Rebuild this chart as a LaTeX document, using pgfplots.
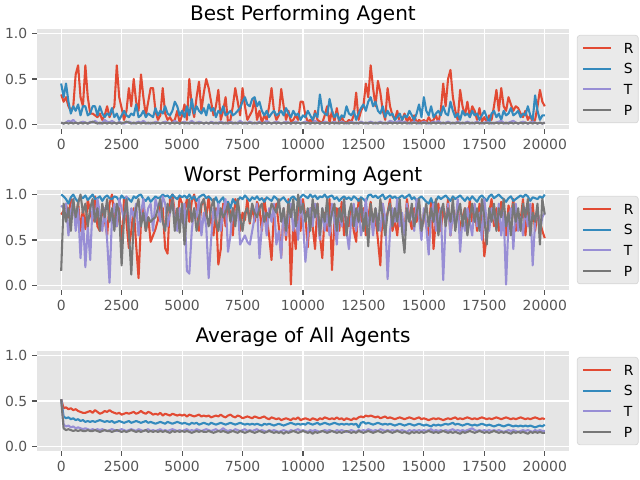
\documentclass[border=0pt]{standalone}
\usepackage{fontspec}
\setmainfont{DejaVu Sans}
\usepackage{pgfplots}
\usepackage{pgfplotstable}
\pgfplotsset{compat=1.18}
\definecolor{ggred}{HTML}{E24A33}
\definecolor{ggblue}{HTML}{348ABD}
\definecolor{ggpurple}{HTML}{988ED5}
\definecolor{gggray}{HTML}{777777}
\definecolor{ggbg}{HTML}{E5E5E5}
\definecolor{ticklab}{HTML}{555555}
\definecolor{legfill}{HTML}{EAEAEA}
\definecolor{legdraw}{HTML}{D6D6D6}

\pgfplotstableread{
x R S T P
0 0.33 0.45 0.02 0.02
100 0.25 0.30 0.01 0.01
200 0.30 0.45 0.02 0.02
300 0.20 0.25 0.04 0.01
400 0.15 0.12 0.03 0.02
500 0.20 0.20 0.05 0.01
600 0.55 0.15 0.02 0.02
700 0.65 0.22 0.01 0.01
800 0.30 0.10 0.02 0.02
900 0.20 0.20 0.03 0.01
1000 0.65 0.20 0.02 0.02
1100 0.30 0.10 0.01 0.01
1200 0.12 0.12 0.03 0.02
1300 0.12 0.20 0.02 0.03
1400 0.10 0.20 0.04 0.02
1500 0.08 0.10 0.02 0.01
1600 0.12 0.20 0.01 0.02
1700 0.05 0.12 0.02 0.01
1800 0.10 0.08 0.05 0.02
1900 0.20 0.12 0.03 0.01
2000 0.08 0.10 0.02 0.02
2100 0.15 0.18 0.04 0.01
2200 0.20 0.08 0.02 0.02
2300 0.65 0.12 0.01 0.01
2400 0.30 0.05 0.03 0.02
2500 0.18 0.10 0.02 0.01
2600 0.05 0.15 0.01 0.02
2700 0.15 0.10 0.02 0.03
2800 0.40 0.08 0.03 0.02
2900 0.20 0.12 0.02 0.01
3000 0.50 0.10 0.01 0.02
3100 0.25 0.22 0.02 0.01
3200 0.15 0.08 0.03 0.02
3300 0.55 0.10 0.02 0.01
3400 0.30 0.15 0.04 0.02
3500 0.10 0.08 0.02 0.01
3600 0.25 0.12 0.01 0.02
3700 0.40 0.10 0.02 0.01
3800 0.40 0.08 0.01 0.02
3900 0.15 0.18 0.03 0.01
4000 0.05 0.10 0.02 0.02
4100 0.10 0.15 0.01 0.01
4200 0.40 0.12 0.02 0.02
4300 0.12 0.20 0.03 0.01
4400 0.05 0.12 0.02 0.02
4500 0.08 0.10 0.01 0.01
4600 0.03 0.15 0.02 0.02
4700 0.05 0.25 0.04 0.01
4800 0.15 0.20 0.02 0.02
4900 0.02 0.10 0.01 0.01
5000 0.10 0.15 0.02 0.02
5100 0.22 0.08 0.03 0.01
5200 0.05 0.20 0.01 0.02
5300 0.50 0.10 0.02 0.01
5400 0.20 0.28 0.04 0.02
5500 0.08 0.12 0.02 0.01
5600 0.30 0.20 0.01 0.02
5700 0.47 0.15 0.03 0.01
5800 0.15 0.12 0.02 0.02
5900 0.35 0.18 0.01 0.01
6000 0.50 0.10 0.02 0.02
6100 0.40 0.22 0.01 0.01
6200 0.25 0.15 0.03 0.02
6300 0.10 0.18 0.02 0.01
6400 0.20 0.08 0.01 0.02
6500 0.38 0.15 0.02 0.01
6600 0.05 0.12 0.03 0.02
6700 0.15 0.20 0.02 0.01
6800 0.30 0.10 0.01 0.02
6900 0.02 0.12 0.02 0.01
7000 0.05 0.15 0.03 0.02
7100 0.20 0.10 0.02 0.01
7200 0.40 0.12 0.01 0.02
7300 0.25 0.15 0.02 0.01
7400 0.10 0.18 0.04 0.02
7500 0.40 0.25 0.02 0.01
7600 0.20 0.30 0.01 0.02
7700 0.05 0.22 0.02 0.01
7800 0.10 0.20 0.03 0.02
7900 0.15 0.28 0.02 0.01
8000 0.28 0.30 0.01 0.02
8100 0.05 0.20 0.02 0.01
8200 0.15 0.25 0.03 0.02
8300 0.02 0.15 0.01 0.01
8400 0.10 0.10 0.02 0.02
8500 0.05 0.15 0.04 0.01
8600 0.20 0.08 0.02 0.02
8700 0.40 0.12 0.01 0.01
8800 0.15 0.15 0.02 0.02
8900 0.05 0.10 0.03 0.01
9000 0.10 0.12 0.02 0.02
9100 0.39 0.15 0.01 0.01
9200 0.20 0.10 0.02 0.02
9300 0.05 0.18 0.03 0.01
9400 0.15 0.12 0.02 0.02
9500 0.03 0.08 0.01 0.01
9600 0.05 0.15 0.02 0.02
9700 0.10 0.10 0.03 0.01
9800 0.05 0.12 0.02 0.02
9900 0.25 0.05 0.01 0.01
10000 0.25 0.10 0.02 0.02
10100 0.10 0.08 0.03 0.01
10200 0.03 0.15 0.02 0.02
10300 0.05 0.10 0.01 0.01
10400 0.02 0.05 0.02 0.02
10500 0.15 0.12 0.04 0.01
10600 0.05 0.08 0.02 0.02
10700 0.03 0.33 0.01 0.01
10800 0.02 0.15 0.02 0.02
10900 0.10 0.12 0.03 0.01
11000 0.20 0.10 0.02 0.02
11100 0.02 0.28 0.01 0.01
11200 0.15 0.15 0.02 0.02
11300 0.03 0.08 0.03 0.01
11400 0.18 0.12 0.01 0.02
11500 0.02 0.05 0.02 0.01
11600 0.08 0.10 0.03 0.02
11700 0.03 0.08 0.02 0.01
11800 0.02 0.20 0.01 0.02
11900 0.05 0.12 0.02 0.01
12000 0.03 0.10 0.03 0.02
12100 0.10 0.15 0.02 0.01
12200 0.35 0.05 0.01 0.02
12300 0.05 0.12 0.02 0.01
12400 0.15 0.18 0.03 0.02
12500 0.20 0.22 0.02 0.01
12600 0.45 0.15 0.01 0.02
12700 0.30 0.25 0.02 0.01
12800 0.65 0.30 0.03 0.02
12900 0.40 0.20 0.02 0.01
13000 0.20 0.25 0.01 0.02
13100 0.48 0.15 0.02 0.01
13200 0.35 0.12 0.03 0.02
13300 0.15 0.20 0.02 0.01
13400 0.05 0.08 0.01 0.02
13500 0.40 0.15 0.02 0.01
13600 0.20 0.10 0.04 0.02
13700 0.10 0.12 0.03 0.01
13800 0.05 0.05 0.02 0.02
13900 0.15 0.08 0.03 0.01
14000 0.02 0.12 0.04 0.02
14100 0.05 0.05 0.02 0.01
14200 0.12 0.10 0.03 0.02
14300 0.03 0.08 0.02 0.01
14400 0.08 0.15 0.01 0.02
14500 0.02 0.10 0.02 0.01
14600 0.10 0.05 0.03 0.02
14700 0.02 0.12 0.02 0.01
14800 0.05 0.22 0.01 0.02
14900 0.03 0.08 0.02 0.01
15000 0.05 0.30 0.03 0.02
15100 0.02 0.15 0.02 0.01
15200 0.08 0.10 0.01 0.02
15300 0.03 0.20 0.02 0.01
15400 0.05 0.08 0.03 0.02
15500 0.10 0.12 0.02 0.01
15600 0.02 0.15 0.04 0.02
15700 0.15 0.10 0.02 0.01
15800 0.45 0.20 0.01 0.02
15900 0.20 0.12 0.02 0.01
16000 0.50 0.10 0.03 0.02
16100 0.60 0.25 0.02 0.01
16200 0.30 0.15 0.01 0.02
16300 0.15 0.08 0.02 0.01
16400 0.05 0.12 0.03 0.02
16500 0.38 0.05 0.02 0.01
16600 0.20 0.15 0.01 0.02
16700 0.10 0.10 0.02 0.01
16800 0.25 0.12 0.03 0.02
16900 0.08 0.08 0.02 0.01
17000 0.20 0.15 0.01 0.02
17100 0.15 0.10 0.02 0.01
17200 0.05 0.12 0.03 0.02
17300 0.18 0.05 0.02 0.01
17400 0.03 0.10 0.01 0.02
17500 0.08 0.15 0.02 0.01
17600 0.02 0.08 0.03 0.02
17700 0.10 0.02 0.02 0.01
17800 0.05 0.12 0.01 0.02
17900 0.20 0.15 0.02 0.01
18000 0.38 0.08 0.02 0.02
18100 0.15 0.12 0.03 0.01
18200 0.40 0.05 0.04 0.02
18300 0.20 0.15 0.02 0.01
18400 0.15 0.10 0.01 0.02
18500 0.30 0.12 0.02 0.01
18600 0.22 0.18 0.03 0.02
18700 0.15 0.10 0.04 0.01
18800 0.20 0.12 0.02 0.02
18900 0.18 0.15 0.01 0.01
19000 0.12 0.08 0.02 0.02
19100 0.08 0.12 0.03 0.01
19200 0.15 0.10 0.02 0.02
19300 0.05 0.20 0.01 0.01
19400 0.10 0.10 0.02 0.02
19500 0.02 0.05 0.03 0.01
19600 0.05 0.32 0.02 0.02
19700 0.20 0.15 0.01 0.01
19800 0.38 0.05 0.02 0.02
19900 0.25 0.10 0.01 0.01
20000 0.20 0.10 0.02 0.02
}\best

\pgfplotstableread{
x R S T P
0 0.78 1.00 0.88 0.16
100 0.82 0.98 0.85 0.90
200 0.90 0.95 0.90 0.70
300 0.75 0.90 0.55 0.85
400 0.95 0.97 0.80 0.60
500 0.88 1.00 0.95 0.95
600 0.70 0.95 0.60 0.75
700 0.92 0.92 0.85 0.90
800 0.60 0.98 0.30 1.00
900 0.85 0.96 0.75 0.80
1000 0.62 0.99 0.20 0.90
1100 0.95 0.94 0.65 0.65
1200 0.80 0.97 0.28 0.85
1300 0.70 1.00 0.90 0.95
1400 0.98 0.95 0.70 0.70
1500 0.65 0.96 0.95 0.85
1600 0.60 0.98 0.80 0.60
1700 0.85 0.93 0.60 0.90
1800 0.72 0.97 0.85 0.75
1900 0.55 0.99 0.50 0.95
2000 0.90 0.96 0.03 0.70
2100 1.00 0.95 0.75 0.85
2200 0.75 0.98 0.90 0.60
2300 0.65 0.97 0.65 0.90
2400 0.85 0.93 0.95 0.80
2500 0.40 0.99 0.85 0.22
2600 0.95 0.96 0.70 0.75
2700 0.70 0.97 0.98 0.95
2800 0.41 0.95 0.60 0.60
2900 0.60 0.92 0.85 0.12
3000 0.85 0.98 0.75 0.70
3100 0.45 0.96 0.90 0.85
3200 0.08 0.99 0.55 0.95
3300 0.70 1.00 0.80 0.65
3400 0.90 0.95 0.95 0.80
3500 0.60 0.93 0.70 0.60
3600 0.75 0.97 0.85 0.75
3700 0.48 0.92 0.90 0.70
3800 0.55 0.95 0.60 0.73
3900 0.62 0.98 0.95 0.75
4000 0.72 0.96 0.85 0.85
4100 0.90 0.97 0.70 0.95
4200 0.85 1.00 0.98 0.70
4300 0.41 0.98 0.90 0.60
4400 0.35 0.99 0.65 0.90
4500 0.95 0.96 0.80 0.80
4600 1.00 1.00 0.95 0.95
4700 0.80 0.97 0.75 0.60
4800 0.65 0.95 0.60 0.85
4900 0.98 0.99 0.85 0.58
5000 0.90 0.97 0.70 0.90
5100 0.82 0.99 0.90 0.45
5200 0.95 0.96 0.16 0.80
5300 0.70 1.00 0.13 0.95
5400 0.92 0.95 0.60 0.70
5500 1.00 0.98 0.85 0.85
5600 0.85 0.93 0.75 0.60
5700 0.60 0.97 0.95 0.75
5800 0.88 0.99 0.55 0.90
5900 0.95 1.00 0.80 0.95
6000 0.75 0.96 0.65 0.80
6100 0.98 0.98 0.08 0.65
6200 0.70 0.95 0.50 0.85
6300 0.55 0.92 0.85 0.95
6400 0.85 0.97 0.70 0.70
6500 0.23 0.90 0.90 0.60
6600 0.40 0.94 0.60 0.85
6700 0.90 0.97 0.80 0.75
6800 0.65 0.88 0.95 0.80
6900 0.92 0.92 0.37 0.90
7000 0.78 0.85 0.55 0.70
7100 0.55 0.95 0.85 0.85
7200 0.95 0.90 0.70 0.65
7300 0.85 0.93 0.90 0.95
7400 0.60 0.97 0.45 0.75
7500 0.80 0.95 0.50 0.60
7600 0.72 0.99 0.55 0.80
7700 0.95 0.96 0.48 0.85
7800 0.68 0.93 0.45 0.70
7900 0.88 0.97 0.60 0.90
8000 0.70 0.95 0.75 0.80
8100 0.92 0.98 0.90 0.75
8200 0.85 0.94 0.30 0.85
8300 0.60 0.96 0.65 0.90
8400 0.95 0.92 0.80 0.70
8500 0.75 0.97 0.55 0.80
8600 0.55 0.95 0.85 0.75
8700 0.28 0.93 0.70 0.90
8800 0.80 0.98 0.90 0.85
8900 0.90 0.96 0.45 0.80
9000 0.65 0.92 0.60 0.95
9100 0.33 0.95 0.30 0.70
9200 0.85 0.97 0.85 0.85
9300 0.50 0.93 0.55 0.60
9400 0.95 0.90 0.75 0.90
9500 0.01 0.96 0.90 0.75
9600 0.70 0.98 0.60 0.95
9700 0.40 0.95 0.80 0.65
9800 0.88 0.93 0.50 1.00
9900 0.60 0.97 0.95 0.80
10000 0.95 1.00 0.70 0.90
10100 0.75 0.98 0.26 0.70
10200 0.42 0.96 0.55 0.85
10300 0.85 1.00 0.85 0.60
10400 0.65 0.97 0.65 0.95
10500 0.40 0.99 0.90 0.75
10600 0.90 0.95 0.75 0.90
10700 0.55 0.98 0.50 0.55
10800 0.30 0.97 0.85 0.85
10900 0.80 1.00 0.60 0.70
11000 0.60 0.96 0.80 0.95
11100 0.95 0.98 0.55 0.65
11200 0.17 0.99 0.90 0.80
11300 0.70 0.95 0.70 0.90
11400 0.85 0.97 0.45 0.60
11500 0.60 0.93 0.85 0.85
11600 0.92 0.96 0.65 0.70
11700 0.55 0.98 0.95 0.95
11800 0.75 0.95 0.60 0.55
11900 0.65 0.97 0.40 0.80
12000 0.85 0.94 0.75 0.90
12100 0.60 0.98 0.90 0.65
12200 0.48 0.96 0.60 0.85
12300 0.95 0.93 0.85 0.70
12400 0.70 0.97 0.55 0.95
12500 0.85 0.95 0.70 0.60
12600 0.55 0.92 0.95 0.80
12700 0.75 0.99 0.65 0.43
12800 0.92 1.00 0.80 0.90
12900 0.60 0.97 0.55 0.70
13000 0.75 0.99 0.85 0.85
13100 0.50 0.96 0.70 0.60
13200 0.22 0.98 0.60 0.95
13300 0.90 1.00 0.90 0.75
13400 0.65 0.95 0.75 0.55
13500 0.80 0.97 0.07 0.80
13600 0.95 0.99 0.60 0.90
13700 0.60 0.96 0.85 0.65
13800 0.72 0.98 0.70 0.85
13900 0.55 0.95 0.95 0.70
14000 0.88 0.97 0.65 0.95
14100 0.70 0.99 0.80 0.60
14200 0.60 0.96 0.55 0.36
14300 0.95 0.98 0.90 0.85
14400 0.75 1.00 0.70 0.70
14500 0.62 0.95 0.85 0.90
14600 0.85 0.97 0.60 0.65
14700 0.70 0.93 0.95 0.80
14800 0.90 0.96 0.75 0.95
14900 0.60 0.98 0.50 0.60
15000 0.80 0.95 0.85 0.75
15100 0.65 0.92 0.65 0.90
15200 0.55 0.90 0.34 0.65
15300 0.95 0.96 0.80 0.85
15400 0.40 0.88 0.90 0.70
15500 0.75 0.93 0.60 0.95
15600 0.90 0.98 0.75 0.55
15700 0.60 0.95 0.85 0.80
15800 0.85 0.97 0.06 0.90
15900 0.70 0.99 0.70 0.65
16000 0.95 0.96 0.90 0.85
16100 0.55 0.93 0.55 0.70
16200 0.80 0.98 0.80 0.95
16300 0.68 0.95 0.65 0.60
16400 0.90 0.97 0.95 0.80
16500 0.60 0.99 0.37 0.90
16600 0.75 0.96 0.75 0.65
16700 0.85 0.93 0.60 0.85
16800 0.62 0.97 0.85 0.55
16900 0.95 0.94 0.70 0.75
17000 0.70 0.98 0.55 0.90
17100 0.85 0.95 0.90 0.70
17200 0.60 0.92 0.65 0.85
17300 0.90 0.97 0.80 0.60
17400 0.75 0.99 0.50 0.95
17500 0.32 0.96 0.95 0.75
17600 0.55 0.93 0.70 0.45
17700 0.80 0.98 0.60 0.85
17800 0.95 1.00 0.85 0.70
17900 0.65 0.96 0.75 0.90
18000 0.85 0.98 0.65 0.60
18100 0.60 1.00 0.90 0.85
18200 0.92 0.97 0.55 0.75
18300 0.70 0.95 0.80 0.95
18400 0.55 0.92 0.01 0.65
18500 0.88 0.96 0.70 0.80
18600 0.75 0.98 0.85 0.55
18700 0.95 0.93 0.40 0.90
18800 0.60 0.95 0.90 0.70
18900 0.80 0.97 0.60 0.85
19000 0.72 0.99 0.75 0.60
19100 0.95 0.97 0.55 0.90
19200 0.55 1.00 0.85 0.75
19300 0.85 0.98 0.65 0.95
19400 0.65 0.93 0.90 0.55
19500 0.90 0.97 0.22 0.80
19600 0.60 0.96 0.70 0.70
19700 0.80 0.95 0.85 0.90
19800 0.70 0.98 0.60 0.45
19900 0.60 0.96 0.75 0.95
20000 0.52 1.00 0.80 0.78
}\worst

\pgfplotstableread{
x R S T P
0 0.52 0.52 0.52 0.52
100 0.42 0.33 0.24 0.20
200 0.43 0.31 0.22 0.18
300 0.41 0.32 0.23 0.19
400 0.42 0.30 0.21 0.18
500 0.40 0.31 0.22 0.17
600 0.41 0.29 0.20 0.18
700 0.39 0.30 0.21 0.17
800 0.38 0.28 0.20 0.18
900 0.37 0.29 0.19 0.17
1000 0.37 0.27 0.20 0.17
1100 0.38 0.28 0.19 0.18
1200 0.39 0.27 0.18 0.17
1300 0.37 0.28 0.19 0.17
1400 0.40 0.27 0.18 0.18
1500 0.38 0.28 0.19 0.17
1600 0.36 0.29 0.18 0.16
1700 0.37 0.28 0.19 0.17
1800 0.39 0.27 0.18 0.18
1900 0.38 0.28 0.17 0.17
2000 0.40 0.27 0.18 0.17
2100 0.38 0.28 0.19 0.16
2200 0.37 0.26 0.18 0.17
2300 0.36 0.27 0.17 0.18
2400 0.37 0.28 0.18 0.17
2500 0.35 0.27 0.19 0.16
2600 0.36 0.26 0.18 0.17
2700 0.37 0.27 0.17 0.16
2800 0.36 0.28 0.18 0.17
2900 0.37 0.26 0.19 0.18
3000 0.38 0.27 0.18 0.17
3100 0.36 0.28 0.17 0.16
3200 0.37 0.27 0.19 0.17
3300 0.39 0.26 0.18 0.16
3400 0.37 0.27 0.17 0.17
3500 0.36 0.28 0.18 0.18
3600 0.38 0.26 0.19 0.16
3700 0.37 0.27 0.17 0.17
3800 0.35 0.26 0.18 0.16
3900 0.36 0.25 0.17 0.17
4000 0.35 0.26 0.18 0.16
4100 0.37 0.27 0.19 0.17
4200 0.34 0.26 0.17 0.16
4300 0.36 0.25 0.18 0.17
4400 0.35 0.27 0.17 0.16
4500 0.34 0.26 0.18 0.15
4600 0.36 0.25 0.19 0.17
4700 0.35 0.26 0.18 0.16
4800 0.34 0.27 0.17 0.17
4900 0.35 0.26 0.18 0.16
5000 0.34 0.25 0.17 0.17
5100 0.35 0.26 0.18 0.16
5200 0.33 0.25 0.19 0.17
5300 0.35 0.24 0.17 0.16
5400 0.34 0.26 0.18 0.15
5500 0.33 0.25 0.17 0.16
5600 0.34 0.26 0.19 0.17
5700 0.35 0.24 0.18 0.16
5800 0.33 0.25 0.17 0.17
5900 0.34 0.26 0.18 0.16
6000 0.33 0.25 0.19 0.16
6100 0.34 0.24 0.18 0.17
6200 0.32 0.26 0.17 0.16
6300 0.33 0.25 0.18 0.15
6400 0.34 0.24 0.19 0.16
6500 0.33 0.25 0.17 0.17
6600 0.35 0.26 0.18 0.16
6700 0.33 0.25 0.20 0.17
6800 0.32 0.24 0.18 0.16
6900 0.34 0.25 0.17 0.15
7000 0.35 0.26 0.18 0.16
7100 0.33 0.25 0.17 0.17
7200 0.32 0.24 0.19 0.16
7300 0.34 0.25 0.18 0.15
7400 0.33 0.26 0.17 0.17
7500 0.31 0.25 0.18 0.16
7600 0.32 0.24 0.19 0.15
7700 0.33 0.25 0.17 0.16
7800 0.32 0.24 0.18 0.17
7900 0.31 0.25 0.17 0.16
8000 0.33 0.24 0.18 0.15
8100 0.32 0.25 0.19 0.16
8200 0.31 0.24 0.17 0.17
8300 0.32 0.23 0.18 0.16
8400 0.33 0.25 0.17 0.15
8500 0.31 0.24 0.16 0.16
8600 0.30 0.25 0.18 0.17
8700 0.32 0.24 0.17 0.16
8800 0.31 0.23 0.18 0.15
8900 0.30 0.24 0.17 0.16
9000 0.31 0.25 0.16 0.15
9100 0.29 0.24 0.17 0.16
9200 0.30 0.23 0.18 0.14
9300 0.31 0.24 0.17 0.16
9400 0.30 0.25 0.16 0.15
9500 0.29 0.26 0.18 0.16
9600 0.31 0.25 0.17 0.17
9700 0.30 0.24 0.18 0.16
9800 0.32 0.25 0.19 0.15
9900 0.29 0.24 0.17 0.16
10000 0.30 0.25 0.18 0.17
10100 0.31 0.24 0.17 0.16
10200 0.30 0.26 0.16 0.15
10300 0.29 0.25 0.18 0.16
10400 0.31 0.24 0.17 0.14
10500 0.30 0.25 0.18 0.16
10600 0.29 0.26 0.17 0.15
10700 0.31 0.24 0.16 0.16
10800 0.30 0.25 0.17 0.17
10900 0.32 0.26 0.18 0.16
11000 0.31 0.25 0.17 0.15
11100 0.30 0.24 0.18 0.16
11200 0.31 0.25 0.17 0.17
11300 0.30 0.26 0.16 0.16
11400 0.32 0.25 0.18 0.15
11500 0.30 0.24 0.17 0.16
11600 0.31 0.25 0.18 0.15
11700 0.29 0.24 0.17 0.16
11800 0.31 0.25 0.16 0.17
11900 0.30 0.24 0.17 0.16
12000 0.29 0.25 0.18 0.15
12100 0.31 0.24 0.17 0.16
12200 0.30 0.25 0.16 0.15
12300 0.32 0.21 0.18 0.17
12400 0.33 0.26 0.17 0.16
12500 0.32 0.27 0.18 0.15
12600 0.34 0.25 0.17 0.16
12700 0.33 0.26 0.19 0.17
12800 0.34 0.25 0.18 0.16
12900 0.33 0.24 0.17 0.15
13000 0.32 0.25 0.18 0.16
13100 0.33 0.26 0.17 0.17
13200 0.31 0.25 0.19 0.16
13300 0.32 0.24 0.18 0.15
13400 0.33 0.25 0.17 0.16
13500 0.31 0.24 0.18 0.17
13600 0.32 0.25 0.17 0.16
13700 0.31 0.24 0.18 0.15
13800 0.30 0.23 0.17 0.16
13900 0.31 0.24 0.18 0.17
14000 0.32 0.25 0.17 0.16
14100 0.31 0.24 0.18 0.15
14200 0.30 0.23 0.17 0.16
14300 0.31 0.24 0.16 0.15
14400 0.32 0.25 0.18 0.14
14500 0.31 0.24 0.17 0.16
14600 0.30 0.23 0.18 0.15
14700 0.31 0.24 0.17 0.16
14800 0.32 0.25 0.18 0.15
14900 0.30 0.24 0.17 0.16
15000 0.31 0.23 0.18 0.15
15100 0.30 0.24 0.17 0.16
15200 0.29 0.23 0.18 0.17
15300 0.30 0.22 0.19 0.16
15400 0.31 0.24 0.17 0.15
15500 0.30 0.23 0.18 0.16
15600 0.31 0.24 0.17 0.15
15700 0.30 0.23 0.18 0.16
15800 0.29 0.24 0.17 0.17
15900 0.30 0.25 0.18 0.16
16000 0.31 0.24 0.17 0.15
16100 0.30 0.25 0.18 0.16
16200 0.31 0.26 0.19 0.15
16300 0.32 0.24 0.17 0.16
16400 0.30 0.25 0.18 0.15
16500 0.31 0.24 0.17 0.14
16600 0.30 0.23 0.18 0.16
16700 0.31 0.24 0.17 0.15
16800 0.32 0.25 0.18 0.16
16900 0.31 0.24 0.19 0.17
17000 0.30 0.23 0.20 0.16
17100 0.31 0.24 0.18 0.15
17200 0.30 0.23 0.17 0.16
17300 0.31 0.24 0.18 0.17
17400 0.32 0.25 0.17 0.16
17500 0.31 0.24 0.18 0.15
17600 0.30 0.23 0.17 0.16
17700 0.31 0.24 0.18 0.15
17800 0.30 0.23 0.17 0.16
17900 0.31 0.22 0.18 0.17
18000 0.32 0.23 0.17 0.16
18100 0.31 0.24 0.18 0.15
18200 0.30 0.23 0.17 0.16
18300 0.31 0.22 0.16 0.15
18400 0.32 0.23 0.17 0.16
18500 0.31 0.24 0.18 0.15
18600 0.30 0.23 0.17 0.14
18700 0.31 0.22 0.18 0.16
18800 0.30 0.23 0.17 0.15
18900 0.31 0.22 0.16 0.16
19000 0.32 0.23 0.17 0.15
19100 0.31 0.22 0.18 0.16
19200 0.30 0.23 0.17 0.15
19300 0.31 0.22 0.18 0.14
19400 0.30 0.23 0.17 0.16
19500 0.31 0.22 0.16 0.15
19600 0.32 0.21 0.18 0.16
19700 0.31 0.22 0.17 0.15
19800 0.30 0.23 0.18 0.16
19900 0.31 0.22 0.17 0.15
20000 0.30 0.24 0.17 0.15
}\avg

\pgfplotsset{
  ggstyle/.style={
    scale only axis, width=383pt, height=72pt,
    anchor=south west,
    xmin=-1000, xmax=21000, ymin=-0.05, ymax=1.05,
    axis background/.style={fill=ggbg},
    axis line style={draw=none},
    grid=major, major grid style={white, line width=0.8pt},
    xtick={0,2500,5000,7500,10000,12500,15000,17500,20000},
    ytick={0,0.5,1},
    scaled x ticks=false,
    tick align=outside, xtick pos=bottom, ytick pos=left,
    major tick length=3.5pt,
    tick style={ticklab, line width=0.8pt},
    ticklabel style={font=\fontsize{10}{12}\selectfont, text=ticklab},
    /pgf/number format/assume math mode=true,
    xticklabel={\pgfmathprintnumber[fixed,precision=0,1000 sep={}]{\tick}},
    yticklabel={\pgfmathprintnumber[fixed,fixed zerofill,precision=1]{\tick}},
    title style={font=\fontsize{14.4}{17}\selectfont, anchor=base, inner sep=0pt},
    legend style={at={(1.015,0.94)}, anchor=north west, fill=legfill, draw=legdraw,
      line width=0.5pt, rounded corners=2pt, font=\fontsize{10}{12}\selectfont,
      inner xsep=3.5pt, inner ysep=5.5pt, row sep=7.6pt, column sep=8.5pt,
      nodes={inner sep=0pt, text height=7.3pt, text depth=0pt, anchor=west}},
    legend cell align=left,
    legend image code/.code={\draw[#1, line width=1.5pt] (0pt,0pt) -- (20pt,0pt);},
    every axis plot/.append style={line width=1.5pt, no markers, line join=round},
    cycle list={{ggred},{ggblue},{ggpurple},{gggray}},
  }
}

\begin{document}
\begin{tikzpicture}
\useasboundingbox (-26.64pt,-20.88pt) rectangle (434.16pt,324.72pt);
\begin{axis}[ggstyle, at={(0pt,231.84pt)}, title={Best Performing Agent}]
\addplot table[x=x,y=R]{\best};
\addplot table[x=x,y=S]{\best};
\addplot table[x=x,y=T]{\best};
\addplot table[x=x,y=P]{\best};
\legend{R,S,T,P}
\end{axis}
\begin{axis}[ggstyle, at={(0pt,115.92pt)}, title={Worst Performing Agent}]
\addplot table[x=x,y=R]{\worst};
\addplot table[x=x,y=S]{\worst};
\addplot table[x=x,y=T]{\worst};
\addplot table[x=x,y=P]{\worst};
\legend{R,S,T,P}
\end{axis}
\begin{axis}[ggstyle, at={(0pt,0pt)}, title={Average of All Agents}]
\addplot table[x=x,y=R]{\avg};
\addplot table[x=x,y=S]{\avg};
\addplot table[x=x,y=T]{\avg};
\addplot table[x=x,y=P]{\avg};
\legend{R,S,T,P}
\end{axis}
\end{tikzpicture}
\end{document}
